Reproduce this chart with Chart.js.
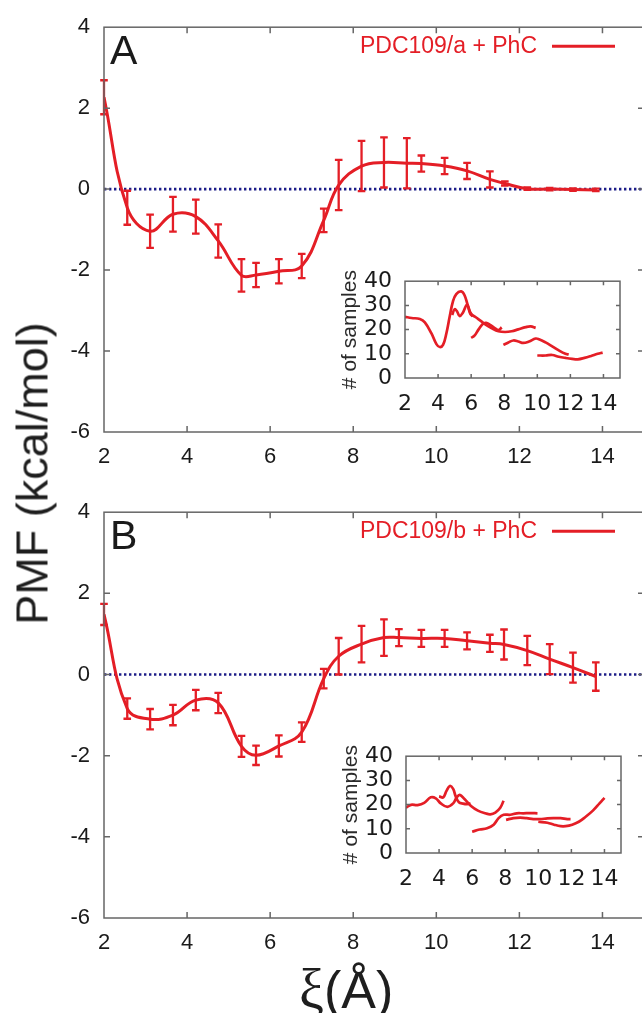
<!DOCTYPE html>
<html>
<head>
<meta charset="utf-8">
<script src="https://cdn.jsdelivr.net/npm/chart.js@4.4.1/dist/chart.umd.min.js"></script>
<style>
html, body { margin: 0; padding: 0; width: 642px; height: 1013px; overflow: hidden; background: #fff; }
canvas { position: absolute; }
#pmfA { left: 0; top: 0; }
#pmfB { left: 0; top: 485px; }
#samplesA { left: 315px; top: 255px; }
#samplesB { left: 316px; top: 730px; }
.title { position: absolute; color: #1e1e1e; font-family: "Liberation Sans", Arial, sans-serif; white-space: nowrap; }
#ytitle { left: -218px; top: 451px; width: 500px; height: 45px; line-height: 45px; font-size: 45px; text-align: center; transform: rotate(-90deg); }
#xtitle { left: 299px; top: 963px; height: 52px; line-height: 52px; font-size: 52px; }
#xtitle .xi { font-family: "Liberation Serif", "Times New Roman", serif; font-size: 56px; }
</style>
</head>
<body>
<canvas id="pmfA" width="700" height="480"></canvas>
<canvas id="pmfB" width="700" height="481"></canvas>
<canvas id="samplesA" width="317" height="163"></canvas>
<canvas id="samplesB" width="317" height="163"></canvas>
<div class="title" id="ytitle">PMF (kcal/mol)</div>
<div class="title" id="xtitle"><span class="xi">ξ</span>(Å)</div>
<script>
// PMF profiles with error bars
const xiA = [2.00, 2.56, 3.11, 3.66, 4.21, 4.75, 5.31, 5.66, 6.21, 6.76, 7.29, 7.65, 8.20, 8.74, 9.29, 9.64, 10.20, 10.74, 11.29, 11.65, 12.19, 12.73, 13.29, 13.84];
const pmfA = [2.27, -0.46, -1.04, -0.62, -0.68, -1.28, -2.13, -2.12, -2.03, -1.90, -0.77, 0.10, 0.57, 0.66, 0.64, 0.63, 0.57, 0.45, 0.24, 0.14, 0.01, 0.00, -0.01, -0.02];
const errA = [0.42, 0.42, 0.41, 0.43, 0.42, 0.41, 0.40, 0.30, 0.30, 0.30, 0.29, 0.62, 0.62, 0.62, 0.62, 0.20, 0.20, 0.20, 0.20, 0.05, 0.03, 0.03, 0.03, 0.03];

const xiB = [2.00, 2.56, 3.11, 3.66, 4.21, 4.75, 5.31, 5.66, 6.21, 6.76, 7.29, 7.65, 8.20, 8.74, 9.10, 9.64, 10.20, 10.74, 11.29, 11.63, 12.19, 12.73, 13.29, 13.84];
const pmfB = [1.48, -0.84, -1.10, -1.00, -0.63, -0.70, -1.77, -1.99, -1.76, -1.42, -0.10, 0.45, 0.75, 0.91, 0.91, 0.89, 0.89, 0.83, 0.77, 0.74, 0.59, 0.38, 0.17, -0.05];
const errB = [0.26, 0.25, 0.25, 0.25, 0.25, 0.25, 0.26, 0.24, 0.26, 0.24, 0.24, 0.45, 0.45, 0.45, 0.21, 0.21, 0.21, 0.21, 0.21, 0.37, 0.36, 0.37, 0.37, 0.35];

const mainXTicks = [2, 4, 6, 8, 10, 12, 14];
const mainYTicks = [-6, -4, -2, 0, 2, 4];
const zeroLine = [[2, 0], [15, 0]];

// number of samples per window (insets)
const samplesA1 = [[2.0, 25.3], [2.4, 24.8], [2.9, 24.4], [3.2, 23.0], [3.6, 18.4], [3.9, 14.0], [4.1, 12.8], [4.3, 13.7], [4.5, 18.4], [4.7, 25.3], [4.9, 31.7], [5.1, 34.7], [5.4, 35.8], [5.6, 34.2], [5.8, 30.0], [6.0, 26.5], [6.3, 25.0], [6.6, 23.5], [6.9, 21.9], [7.25, 20.5], [7.65, 19.3], [8.05, 19.0], [8.45, 19.3], [8.85, 20.1], [9.3, 21.0], [9.6, 21.3], [9.9, 20.7]];
const samplesA2 = [[4.85, 26.0], [5.0, 28.4], [5.15, 27.5], [5.3, 25.6], [5.5, 27.0], [5.75, 30.2], [5.95, 26.5], [6.1, 25.5]];
const samplesA3 = [[6.0, 16.6], [6.2, 17.5], [6.45, 20.1], [6.7, 22.3], [6.9, 22.8], [7.15, 21.9], [7.45, 20.5], [7.65, 19.8], [7.85, 20.9]];
const samplesA4 = [[7.95, 13.7], [8.25, 14.7], [8.55, 15.5], [8.85, 15.1], [9.15, 14.5], [9.5, 15.1], [9.9, 16.3], [10.1, 16.0], [10.5, 14.7], [10.9, 13.1], [11.3, 11.4], [11.7, 10.0], [11.9, 9.7]];
const samplesA5 = [[10.0, 9.3], [10.5, 9.3], [10.9, 9.5], [11.3, 8.8], [11.7, 8.3], [12.1, 7.9], [12.45, 7.7], [12.85, 8.3], [13.25, 9.1], [13.65, 10.0], [13.95, 10.5]];

const samplesB1 = [[2.0, 18.7], [2.3, 19.9], [2.7, 19.8], [3.1, 20.7], [3.5, 23.0], [3.8, 22.6], [4.1, 20.5], [4.5, 19.1], [4.85, 20.5], [5.05, 22.8], [5.25, 24.0], [5.55, 22.2], [5.95, 19.3], [6.35, 17.5], [6.8, 16.4], [7.1, 16.0], [7.4, 16.7], [7.7, 18.7], [7.9, 21.6]];
const samplesB2 = [[4.0, 23.4], [4.25, 23.0], [4.45, 25.7], [4.65, 27.7], [4.85, 26.5], [5.0, 23.5], [5.2, 21.0], [5.45, 20.4], [5.7, 20.2], [5.9, 20.5]];
const samplesB3 = [[6.0, 8.8], [6.45, 9.7], [6.9, 10.2], [7.3, 11.7], [7.6, 14.4], [7.9, 15.8], [8.3, 15.8], [8.7, 16.4], [9.1, 16.4], [9.5, 16.5], [9.95, 16.4]];
const samplesB4 = [[8.05, 13.7], [8.5, 14.4], [8.9, 14.6], [9.3, 14.4], [9.7, 14.0], [10.1, 14.0], [10.55, 14.3], [10.95, 14.4], [11.35, 14.4], [11.75, 14.0], [11.95, 14.0]];
const samplesB5 = [[10.0, 12.9], [10.55, 12.5], [10.95, 11.7], [11.35, 11.1], [11.65, 11.1], [12.05, 11.7], [12.45, 12.9], [12.85, 14.9], [13.3, 17.5], [13.7, 20.5], [14.0, 22.8]];

const insetXTicks = [2, 4, 6, 8, 10, 12, 14];
const insetYTicks = [0, 10, 20, 30, 40];

const RED = '#e41e26';
const NAVY = '#1c1c88';
const FRAME = '#666666';
const INK = '#1a1a1a';
const SANS = '"Liberation Sans", Arial, sans-serif';
const WIDE = '"DejaVu Sans", sans-serif';

// box, inward ticks, error bars, legend and panel letter
const framePlugin = {
  id: 'frame',
  afterDatasetsDraw(chart, args, opts) {
    const ctx = chart.ctx, a = chart.chartArea, x = chart.scales.x, y = chart.scales.y;
    ctx.save();
    ctx.lineCap = 'butt';

    chart.data.datasets.forEach(ds => {
      if (!ds.errors) return;
      ctx.strokeStyle = ds.borderColor;
      ctx.lineWidth = 2.3;
      ds.data.forEach((p, i) => {
        const px = x.getPixelForValue(p.x);
        const lo = y.getPixelForValue(p.y - ds.errors[i]);
        const hi = y.getPixelForValue(p.y + ds.errors[i]);
        ctx.beginPath();
        ctx.moveTo(px, lo); ctx.lineTo(px, hi);
        ctx.moveTo(px - 3.8, lo); ctx.lineTo(px + 3.8, lo);
        ctx.moveTo(px - 3.8, hi); ctx.lineTo(px + 3.8, hi);
        ctx.stroke();
      });
    });

    ctx.strokeStyle = FRAME;
    ctx.lineWidth = 1.5;
    ctx.strokeRect(a.left, a.top, a.right - a.left, a.bottom - a.top);
    const tl = opts.tickLen;
    ctx.beginPath();
    x.ticks.forEach(t => {
      const px = x.getPixelForValue(t.value);
      if (px <= a.left + 1 || px >= a.right - 1) return;
      ctx.moveTo(px, a.bottom); ctx.lineTo(px, a.bottom - tl);
      ctx.moveTo(px, a.top); ctx.lineTo(px, a.top + tl);
    });
    y.ticks.forEach(t => {
      const py = y.getPixelForValue(t.value);
      if (py <= a.top + 1 || py >= a.bottom - 1) return;
      ctx.moveTo(a.left, py); ctx.lineTo(a.left + tl, py);
      ctx.moveTo(a.right, py); ctx.lineTo(a.right - tl, py);
    });
    ctx.stroke();

    if (opts.letter) {
      ctx.fillStyle = INK;
      ctx.font = '41px ' + SANS;
      ctx.textAlign = 'left';
      ctx.textBaseline = 'alphabetic';
      ctx.fillText(opts.letter, a.left + 6, a.top + 37);
    }

    if (opts.legend) {
      const ds = chart.data.datasets[0];
      const ly = a.top + 19;
      ctx.fillStyle = ds.borderColor;
      ctx.font = '23px ' + SANS;
      ctx.textAlign = 'right';
      ctx.textBaseline = 'middle';
      ctx.fillText(ds.label, a.left + 433, ly);
      ctx.strokeStyle = ds.borderColor;
      ctx.lineWidth = 3;
      ctx.beginPath();
      ctx.moveTo(a.left + 448, ly); ctx.lineTo(a.left + 511, ly);
      ctx.stroke();
    }

    if (opts.ytitle) {
      ctx.fillStyle = '#2a2a2a';
      ctx.font = '21px ' + SANS;
      ctx.textAlign = 'center';
      ctx.textBaseline = 'alphabetic';
      ctx.translate(a.left - 49, (a.top + a.bottom) / 2);
      ctx.rotate(-Math.PI / 2);
      ctx.fillText(opts.ytitle, 0, 0);
    }
    ctx.restore();
  }
};

function axis(min, max, ticks, fit, tickOpts) {
  return {
    type: 'linear',
    min: min,
    max: max,
    afterBuildTicks: s => { s.ticks = ticks.map(v => ({ value: v })); },
    afterFit: fit,
    grid: { display: false, drawTicks: false },
    border: { display: false },
    ticks: Object.assign({ color: INK, maxRotation: 0, autoSkip: false }, tickOpts)
  };
}

function pmfChart(id, label, xs, ys, errs, letter) {
  return new Chart(document.getElementById(id), {
    type: 'line',
    data: {
      datasets: [{
        label: label,
        data: xs.map((x, i) => ({ x: x, y: ys[i] })),
        errors: errs,
        borderColor: RED,
        borderWidth: 3,
        pointRadius: 0,
        tension: 0.4,
        fill: false
      }, {
        label: 'zero',
        data: zeroLine,
        borderColor: NAVY,
        borderWidth: 2.6,
        borderDash: [2.4, 2.6],
        pointRadius: 0,
        fill: false
      }]
    },
    options: {
      responsive: false,
      animation: false,
      events: [],
      layout: { padding: { top: 24, right: 56, left: 0, bottom: 0 } },
      plugins: {
        legend: { display: false },
        tooltip: { enabled: false },
        frame: { tickLen: 6, letter: letter, legend: true }
      },
      scales: {
        x: axis(2, 15, mainXTicks, s => { s.height = 48; }, { padding: 12, font: { family: SANS, size: 22 } }),
        y: axis(-6, 4, mainYTicks, s => { s.width = 104; }, { padding: 14, font: { family: SANS, size: 22 } })
      }
    },
    plugins: [framePlugin]
  });
}

function samplesChart(id, segments) {
  return new Chart(document.getElementById(id), {
    type: 'line',
    data: {
      datasets: segments.map((seg, i) => ({
        label: 'window ' + (i + 1),
        data: seg,
        borderColor: RED,
        borderWidth: 2.7,
        pointRadius: 0,
        tension: 0.4,
        fill: false
      }))
    },
    options: {
      responsive: false,
      animation: false,
      events: [],
      layout: { padding: { top: 10, right: 12, left: 0, bottom: 0 } },
      plugins: {
        legend: { display: false },
        tooltip: { enabled: false },
        frame: { tickLen: 4, ytitle: '# of samples' }
      },
      scales: {
        x: axis(2, 15, insetXTicks, s => { s.height = 40; }, { padding: 13, font: { family: WIDE, size: 22 } }),
        y: axis(0, 40, insetYTicks, s => { s.width = 90; }, { padding: 13, font: { family: WIDE, size: 22 } })
      }
    },
    plugins: [framePlugin]
  });
}

pmfChart('pmfA', 'PDC109/a + PhC', xiA, pmfA, errA, 'A');
pmfChart('pmfB', 'PDC109/b + PhC', xiB, pmfB, errB, 'B');
samplesChart('samplesA', [samplesA1, samplesA2, samplesA3, samplesA4, samplesA5]);
samplesChart('samplesB', [samplesB1, samplesB2, samplesB3, samplesB4, samplesB5]);
</script>
</body>
</html>
